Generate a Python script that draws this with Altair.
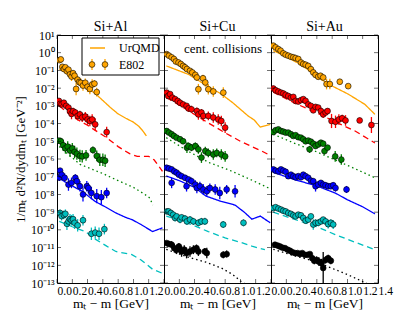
import altair as alt
import pandas as pd

FONT = "Liberation Serif"
SERIES = ["orange", "red", "green", "blue", "cyan", "black"]
COLORS = ["#FFA500", "#FF0000", "#008000", "#0000FF", "#00BFBF", "#000000"]
DASHES = [[1, 0], [6, 4], [1.5, 3], [1, 0], [6, 4], [1.5, 3]]
PANELS = ["Si+Al", "Si+Cu", "Si+Au"]
X_TICKS_A = [0.0, 0.2, 0.4, 0.6, 0.8, 1.0, 1.2]
X_TICKS_B = [0.0, 0.2, 0.4, 0.6, 0.8, 1.0, 1.2, 1.4]
Y_TICKS = [1e-13, 1e-12, 1e-11, 1e-10, 1e-9, 1e-8, 1e-7, 1e-6, 1e-5, 1e-4, 1e-3, 1e-2, 1e-1, 1e0, 1e1]
Y_TICK_LABELS = ["10⁻¹³", "10⁻¹²", "10⁻¹¹", "10⁻¹⁰", "10⁻⁹", "10⁻⁸", "10⁻⁷", "10⁻⁶",
                 "10⁻⁵", "10⁻⁴", "10⁻³", "10⁻²", "10⁻¹", "10⁰", "10¹"]

# ---------------- Si+Al : points (x, y, error in decades) and UrQMD lines (x, y)
AL_ORANGE_PTS = [(0.03, 0.38, .1), (0.05, 0.42, .1), (0.07, 0.16, .15), (0.09, 0.12, .15), (0.11, 0.15, .12),
                 (0.13, 0.09, .15), (0.15, 0.11, .12), (0.17, 0.06, .2), (0.19, 0.045, .25), (0.21, 0.07, .15),
                 (0.23, 0.05, .15), (0.25, 0.009, .35), (0.27, 0.03, .2), (0.29, 0.022, .2), (0.31, 0.02, .25),
                 (0.34, 0.014, .3), (0.37, 0.02, .25), (0.40, 0.012, .3), (0.43, 0.009, .3), (0.46, 0.016, .3),
                 (0.49, 0.018, .2), (0.52, 0.006, .25)]
AL_ORANGE_LINE = [(0.03, 0.12), (0.1, 0.08), (0.2, 0.04), (0.3, 0.018), (0.4, 0.01), (0.5, 0.005), (0.6, 0.002),
                  (0.7, 8e-4), (0.8, 3.5e-4), (0.9, 2e-4), (1.0, 1.2e-4), (1.07, 7e-5), (1.12, 4e-5), (1.17, 2e-5)]
AL_RED_PTS = [(0.025, 1.9e-3, .1), (0.04, 1.3e-3, .12), (0.06, 1.2e-3, .12), (0.09, 1.5e-3, .12), (0.12, 1e-3, .15),
              (0.15, 8e-4, .15), (0.17, 5e-4, .25), (0.19, 3.5e-4, .3), (0.21, 5e-4, .2), (0.24, 4.2e-4, .2),
              (0.27, 2.7e-4, .25), (0.30, 3.3e-4, .2), (0.33, 2.2e-4, .25), (0.37, 2.5e-4, .25), (0.40, 1.7e-4, .3),
              (0.43, 1.4e-4, .3), (0.46, 1.7e-4, .3), (0.50, 9e-5, .35), (0.65, 3.3e-5, .3)]
AL_RED_LINE = [(0.03, 1e-3), (0.2, 2.5e-4), (0.4, 8e-5), (0.55, 3e-5), (0.65, 1.6e-5), (0.8, 5e-6), (0.95, 2e-6),
               (1.05, 1.4e-6), (1.2, 1.4e-6), (1.27, 9e-7), (1.33, 4e-7), (1.38, 2e-7)]
AL_GREEN_PTS = [(0.025, 1.1e-5, .15), (0.05, 1.0e-5, .2), (0.08, 6e-6, .3), (0.11, 4e-6, .3), (0.14, 5e-6, .3),
                (0.17, 3e-6, .35), (0.2, 4e-6, .3), (0.23, 2.5e-6, .35), (0.26, 2e-6, .35), (0.3, 1.5e-6, .35),
                (0.33, 1.4e-6, .35), (0.38, 1.6e-6, .3), (0.47, 3.2e-6, .2), (0.52, 1.5e-6, .3), (0.56, 9e-7, .35),
                (0.6, 9e-7, .35), (0.63, 8e-7, .35)]
AL_GREEN_LINE = [(0.03, 5e-6), (0.3, 5e-7), (0.6, 1.5e-7), (0.8, 6e-8), (1.0, 2.5e-8), (1.15, 1e-8), (1.22, 6e-9),
                 (1.25, 2.5e-9)]
AL_BLUE_PTS = [(0.03, 9e-8, .2), (0.04, 2.2e-7, .15), (0.06, 1.3e-7, .2), (0.1, 8.7e-8, .25), (0.15, 3.6e-8, .35),
               (0.19, 4.5e-8, .3), (0.24, 8.7e-8, .2), (0.26, 5.6e-8, .25), (0.3, 2.9e-8, .3), (0.34, 1e-8, .4),
               (0.39, 2.9e-8, .3), (0.41, 2.3e-8, .3), (0.45, 1.2e-8, .35), (0.52, 8e-9, .4), (0.58, 7e-9, .4),
               (0.65, 1.2e-8, .3)]
AL_BLUE_LINE = [(0.03, 8e-8), (0.2, 3e-8), (0.33, 1.5e-8), (0.5, 4e-9), (0.65, 1.8e-9), (0.77, 9e-10), (0.9, 5e-10),
                (0.98, 3.8e-10), (1.1, 2e-10), (1.25, 8e-11), (1.38, 1.3e-10)]
AL_CYAN_PTS = [(0.04, 9e-10, .2), (0.06, 6e-10, .25), (0.09, 7e-10, .25), (0.11, 8e-10, .25), (0.13, 2.2e-10, .35),
               (0.15, 3e-10, .3), (0.17, 4e-10, .3), (0.19, 3.5e-10, .3), (0.21, 4e-10, .3), (0.23, 2.5e-10, .35),
               (0.27, 1.8e-10, .35), (0.34, 3.5e-10, .3), (0.45, 6e-11, .35), (0.5, 7e-11, .35), (0.55, 6e-11, .35),
               (0.62, 1.1e-10, .3)]
AL_CYAN_LINE = [(0.03, 3e-10), (0.2, 1.5e-10), (0.37, 8e-11), (0.5, 3e-11), (0.65, 1.2e-11), (0.77, 6e-12),
                (0.98, 4e-12), (1.1, 2e-12), (1.25, 6e-13), (1.38, 3.5e-13)]

# ---------------- Si+Cu
CU_ORANGE_PTS = [(0.035, 0.83, .08), (0.065, 0.68, .08), (0.1, 0.55, .08), (0.13, 0.44, .08), (0.155, 0.32, .1),
                 (0.19, 0.28, .1), (0.22, 0.23, .1), (0.25, 0.18, .1), (0.275, 0.15, .12), (0.3, 0.12, .12),
                 (0.34, 0.095, .15), (0.37, 0.077, .15), (0.41, 0.056, .2), (0.43, 0.04, .2), (0.45, 0.0087, .3),
                 (0.51, 0.036, .2), (0.54, 0.021, .25), (0.58, 0.0087, .3), (0.645, 0.0065, .3), (0.776, 0.0056, .3)]
CU_ORANGE_LINE = [(0.03, 0.18), (0.32, 0.06), (0.5, 0.02), (0.75, 4.6e-3), (0.9, 1.5e-3), (1.1, 2.7e-4),
                  (1.18, 1.6e-4), (1.26, 6.3e-5), (1.39, 9e-5)]
CU_RED_PTS = [(0.035, 5.6e-3, .1), (0.055, 3.6e-3, .12), (0.08, 4.6e-3, .1), (0.11, 2.9e-3, .12), (0.145, 2.4e-3, .12),
              (0.18, 1.9e-3, .12), (0.21, 1.5e-3, .15), (0.25, 1.2e-3, .15), (0.295, 1e-3, .15), (0.32, 7.2e-4, .2),
              (0.36, 6.4e-4, .2), (0.43, 5.1e-4, .2), (0.45, 3.3e-4, .3), (0.49, 4.2e-4, .2), (0.515, 2.7e-4, .3),
              (0.58, 2.7e-4, .25), (0.645, 2.2e-4, .3), (0.71, 1.7e-4, .3), (0.75, 1.4e-4, .3), (0.8, 5.9e-5, .3)]
CU_RED_LINE = [(0.03, 3e-3), (0.3, 6e-4), (0.55, 1.3e-4), (0.8, 3e-5), (1.0, 1e-5), (1.15, 5e-6), (1.28, 2.8e-6),
               (1.4, 1.5e-6)]
CU_GREEN_PTS = [(0.035, 3.8e-5, .1), (0.065, 3.1e-5, .1), (0.1, 2.5e-5, .1), (0.13, 2e-5, .12), (0.165, 1.6e-5, .12),
                (0.21, 1.3e-5, .12), (0.25, 1e-5, .15), (0.3, 4.4e-6, .3), (0.32, 5.4e-6, .2), (0.36, 4.4e-6, .2),
                (0.41, 5.4e-6, .2), (0.45, 3.5e-6, .25), (0.49, 1.2e-6, .3), (0.54, 2.8e-6, .25), (0.58, 2.2e-6, .25),
                (0.645, 1.8e-6, .3), (0.69, 2.2e-6, .25), (0.75, 1.8e-6, .3), (0.8, 1.4e-6, .3)]
CU_GREEN_LINE = [(0.03, 1.6e-5), (0.3, 3e-6), (0.6, 6e-7), (0.84, 2.5e-7), (1.1, 8e-8), (1.37, 2.3e-8)]
CU_BLUE_PTS = [(0.035, 3.2e-7, .08), (0.065, 2.9e-7, .08), (0.1, 2.6e-7, .1), (0.1, 4.5e-8, .3), (0.135, 2e-7, .1),
               (0.165, 1.7e-7, .1), (0.195, 1.3e-7, .12), (0.23, 1.07e-7, .12), (0.275, 8.7e-8, .15),
               (0.295, 2.9e-8, .3), (0.32, 7e-8, .15), (0.36, 5.6e-8, .2), (0.41, 3.6e-8, .25), (0.43, 2.3e-8, .3),
               (0.47, 2.9e-8, .25), (0.515, 1.9e-8, .3), (0.56, 1.5e-8, .3), (0.6, 2.3e-8, .25), (0.67, 1.9e-8, .3),
               (0.73, 1.2e-8, .35), (0.82, 1.9e-8, .25), (0.93, 1.5e-8, .35)]
CU_BLUE_LINE = [(0.03, 1.1e-7), (0.2, 6e-8), (0.4, 2.5e-8), (0.55, 8e-9), (0.75, 4e-9), (0.93, 2.5e-9), (1.05, 1e-9),
                (1.15, 4e-10), (1.26, 6e-10), (1.39, 2.5e-10)]
CU_CYAN_PTS = [(0.04, 1.1e-9, .1), (0.06, 1.1e-9, .12), (0.09, 9e-10, .12), (0.12, 7.2e-10, .15), (0.145, 4.7e-10, .2),
               (0.165, 5.8e-10, .15), (0.21, 3.8e-10, .2), (0.23, 5.1e-10, .15), (0.275, 4.3e-10, .2),
               (0.3, 3e-10, .2), (0.34, 3.8e-10, .2), (0.385, 3e-10, .2), (0.45, 2.5e-10, .2), (0.49, 3e-10, .2),
               (0.535, 3e-10, .2), (0.775, 2e-10, .2), (1.04, 2.5e-10, .2)]
CU_CYAN_LINE = [(0.03, 6e-10), (0.3, 2.5e-10), (0.58, 8e-11), (0.8, 3.5e-11), (1.0, 2e-11), (1.15, 1.2e-11),
                (1.32, 7.6e-12)]
CU_BLACK_PTS = [(0.035, 1.8e-11, .12), (0.065, 1.6e-11, .15), (0.1, 1.45e-11, .2), (0.135, 9.3e-12, .25),
                (0.165, 7.6e-12, .25), (0.195, 1.15e-11, .2), (0.23, 6e-12, .3), (0.265, 7.6e-12, .25),
                (0.295, 4.9e-12, .3), (0.34, 6e-12, .3), (0.385, 7.6e-12, .25), (0.425, 9.3e-12, .2),
                (0.45, 6e-12, .25), (0.535, 6e-12, .2), (0.56, 4.9e-12, .3), (0.775, 3.9e-12, .2), (0.82, 4.3e-12, .2)]
CU_BLACK_LINE = [(0.03, 8e-12), (0.3, 3e-12), (0.55, 1.5e-12), (0.75, 7e-13), (0.9, 3e-13), (1.0, 1.3e-13),
                 (1.05, 1e-13)]

# ---------------- Si+Au
AU_ORANGE_PTS = [(0.03, 2.5, .06), (0.061, 2.0, .06), (0.096, 1.6, .06), (0.126, 1.3, .06), (0.161, 0.92, .06),
                 (0.192, 0.77, .06), (0.226, 0.68, .06), (0.261, 0.59, .06), (0.292, 0.55, .06), (0.322, 0.5, .07),
                 (0.357, 0.44, .07), (0.392, 0.28, .08), (0.422, 0.23, .08), (0.453, 0.21, .08), (0.487, 0.18, .1),
                 (0.522, 0.118, .1), (0.553, 0.077, .12), (0.583, 0.056, .12), (0.618, 0.044, .15),
                 (0.648, 0.05, .12), (0.683, 0.04, .15), (0.727, 0.017, .3), (0.77, 0.017, .3), (0.9, 0.023, .15),
                 (1.01, 0.013, .12)]
AU_ORANGE_LINE = [(0.03, 1.3), (0.2, 0.6), (0.36, 0.25), (0.5, 0.1), (0.6, 0.045), (0.75, 0.017), (0.9, 8e-3),
                  (1.01, 4.6e-3), (1.23, 1.2e-3), (1.36, 3.3e-4)]
AU_RED_PTS = [(0.03, 9.5e-3, .06), (0.061, 7.6e-3, .06), (0.096, 6.5e-3, .06), (0.13, 5.6e-3, .06), (0.161, 5e-3, .06),
              (0.192, 4.2e-3, .06), (0.226, 3.6e-3, .06), (0.261, 2.9e-3, .08), (0.292, 3.2e-3, .08),
              (0.322, 1.9e-3, .08), (0.357, 1.75e-3, .08), (0.392, 2.1e-3, .08), (0.422, 2.4e-3, .08),
              (0.453, 1.9e-3, .1), (0.487, 1.2e-3, .1), (0.522, 1e-3, .1), (0.553, 5.6e-4, .15), (0.583, 8.7e-4, .12),
              (0.618, 8e-4, .12), (0.653, 5.1e-4, .15), (0.683, 3.3e-4, .2), (0.714, 4.2e-4, .15), (0.74, 5.1e-4, .15),
              (0.792, 1.4e-4, .4), (0.844, 1.26e-4, .35), (0.888, 1.7e-4, .3), (0.931, 2e-4, .2), (0.975, 1.5e-4, .3),
              (1.16, 1.5e-4, .15), (1.314, 8.3e-5, .45)]
AU_RED_LINE = [(0.03, 6e-3), (0.3, 1.5e-3), (0.6, 4e-4), (0.85, 1.2e-4), (1.1, 3.8e-5), (1.36, 8e-6)]
AU_GREEN_PTS = [(0.03, 3.3e-5, .06), (0.061, 4.2e-5, .06), (0.096, 4.7e-5, .06), (0.13, 3.8e-5, .06),
                (0.161, 3.5e-5, .06), (0.192, 3.1e-5, .06), (0.226, 3.1e-5, .06), (0.261, 2.5e-5, .08),
                (0.292, 2e-5, .08), (0.322, 2.2e-5, .08), (0.357, 1.7e-5, .08), (0.392, 1.6e-5, .08),
                (0.422, 1.3e-5, .1), (0.453, 1e-5, .1), (0.487, 1.1e-5, .1), (0.505, 3.5e-6, .2), (0.522, 9.5e-6, .1),
                (0.553, 7.3e-6, .12), (0.583, 5.4e-6, .12), (0.618, 6.6e-6, .12), (0.653, 8.3e-6, .12),
                (0.683, 7.3e-6, .12), (0.7, 2.8e-6, .2), (0.74, 4.4e-6, .15), (0.84, 1.4e-6, .3), (0.92, 9.3e-7, .3)]
AU_GREEN_LINE = [(0.03, 2.5e-5), (0.3, 8e-6), (0.6, 2.5e-6), (0.97, 5e-7), (1.2, 1.8e-7), (1.36, 8.7e-8)]
AU_BLUE_PTS = [(0.03, 2.6e-7, .06), (0.061, 2.2e-7, .06), (0.096, 2e-7, .06), (0.13, 2.6e-7, .06), (0.161, 2.2e-7, .06),
               (0.192, 1.9e-7, .06), (0.226, 1.07e-7, .08), (0.261, 1.3e-7, .08), (0.292, 1.07e-7, .08),
               (0.322, 9.3e-8, .08), (0.357, 1.07e-7, .08), (0.392, 9.3e-8, .08), (0.422, 1.3e-7, .08),
               (0.453, 1.07e-7, .1), (0.487, 8.7e-8, .1), (0.522, 6e-8, .12), (0.553, 5.6e-8, .12),
               (0.583, 2.9e-8, .3), (0.618, 3.6e-8, .2), (0.653, 4.5e-8, .15), (0.683, 3.6e-8, .15),
               (0.714, 3.3e-8, .15), (0.748, 2.9e-8, .15), (0.783, 2.9e-8, .15), (0.814, 3.3e-8, .15),
               (0.844, 2.3e-8, .2), (0.988, 1.9e-8, .2)]
AU_BLUE_LINE = [(0.03, 1.8e-7), (0.3, 7e-8), (0.6, 3e-8), (0.84, 1.2e-8), (1.0, 5e-9), (1.2, 2e-9), (1.36, 8e-10)]
AU_CYAN_PTS = [(0.03, 1.7e-9, .06), (0.061, 1.9e-9, .06), (0.096, 1.6e-9, .06), (0.13, 1.4e-9, .06),
               (0.161, 1.2e-9, .06), (0.192, 1.1e-9, .06), (0.226, 9e-10, .08), (0.261, 8e-10, .08),
               (0.292, 6.6e-10, .08), (0.322, 5.8e-10, .08), (0.357, 7.2e-10, .08), (0.392, 6.6e-10, .1),
               (0.422, 4.7e-10, .1), (0.453, 3.3e-10, .15), (0.487, 3.8e-10, .15), (0.522, 5.8e-10, .1),
               (0.553, 2e-10, .3), (0.583, 2.5e-10, .2), (0.618, 2.5e-10, .2), (0.653, 3e-10, .15),
               (0.683, 3.8e-10, .15), (0.714, 3e-10, .15), (0.748, 2.1e-10, .25), (0.783, 2.5e-10, .2),
               (0.814, 2e-10, .25)]
AU_CYAN_LINE = [(0.03, 1e-9), (0.3, 4e-10), (0.6, 1.5e-10), (0.84, 5.4e-11), (1.1, 2e-11), (1.36, 7.6e-12)]
AU_BLACK_PTS = [(0.052, 1.45e-11, .06), (0.087, 1.3e-11, .06), (0.117, 1.15e-11, .06), (0.148, 1e-11, .06),
                (0.183, 9.3e-12, .06), (0.218, 7.6e-12, .08), (0.248, 6.6e-12, .08), (0.279, 5.5e-12, .08),
                (0.313, 4.9e-12, .08), (0.348, 4.9e-12, .08), (0.379, 4.3e-12, .1), (0.409, 4.9e-12, .1),
                (0.444, 3.9e-12, .1), (0.479, 3.9e-12, .1), (0.509, 4.3e-12, .12), (0.54, 2.5e-12, .15),
                (0.566, 1.8e-12, .2), (0.596, 2e-12, .2), (0.627, 1.6e-12, .25), (0.662, 1.3e-12, .25),
                (0.683, 7e-13, .9), (0.714, 2e-12, .2), (0.748, 2.5e-12, .2), (0.783, 1.8e-12, .2)]
AU_BLACK_LINE = [(0.03, 8e-12), (0.3, 3.5e-12), (0.55, 1.8e-12), (0.79, 7e-13), (1.0, 3e-13), (1.2, 1.2e-13),
                 (1.25, 1e-13)]

PANEL_PTS = [
    [AL_ORANGE_PTS, AL_RED_PTS, AL_GREEN_PTS, AL_BLUE_PTS, AL_CYAN_PTS, []],
    [CU_ORANGE_PTS, CU_RED_PTS, CU_GREEN_PTS, CU_BLUE_PTS, CU_CYAN_PTS, CU_BLACK_PTS],
    [AU_ORANGE_PTS, AU_RED_PTS, AU_GREEN_PTS, AU_BLUE_PTS, AU_CYAN_PTS, AU_BLACK_PTS],
]
PANEL_LINES = [
    [AL_ORANGE_LINE, AL_RED_LINE, AL_GREEN_LINE, AL_BLUE_LINE, AL_CYAN_LINE, []],
    [CU_ORANGE_LINE, CU_RED_LINE, CU_GREEN_LINE, CU_BLUE_LINE, CU_CYAN_LINE, CU_BLACK_LINE],
    [AU_ORANGE_LINE, AU_RED_LINE, AU_GREEN_LINE, AU_BLUE_LINE, AU_CYAN_LINE, AU_BLACK_LINE],
]

W, H = 107, 248
XT = "mₜ − m [GeV]"
YT = "1/mₜ d²N/dydmₜ [GeV⁻²]"

color_scale = alt.Scale(domain=SERIES, range=COLORS)
dash_scale = alt.Scale(domain=SERIES, range=DASHES)
x_scale = alt.Scale(domain=[0, 1.4], nice=False, zero=False)
y_scale = alt.Scale(type="log", domain=[1e-13, 10], nice=False)
label_expr = "[" + ",".join("'%s'" % l for l in Y_TICK_LABELS) + "][round(log(datum.value)/LN10)+13]"


def make_panel(i):
    rows = []
    for s, pts in zip(SERIES, PANEL_PTS[i]):
        for x, y, e in pts:
            rows.append({"s": s, "x": x, "y": y, "lo": y / 10 ** e, "hi": y * 10 ** e})
    pdf = pd.DataFrame(rows)
    lrows = []
    for s, ln in zip(SERIES, PANEL_LINES[i]):
        for x, y in ln:
            lrows.append({"s": s, "x": x, "y": y})
    ldf = pd.DataFrame(lrows)

    xticks = X_TICKS_B if i == 2 else X_TICKS_A
    xaxis = alt.Axis(values=xticks, format=".1f", title=XT, ticks=False, tickSize=0, labelPadding=2,
                     labelFlush=False, labelOverlap=False, labelFontSize=11.5, labelAlign="left",
                     titleFontSize=13.5, titleFontWeight="normal", titlePadding=0, domain=False)
    if i == 0:
        yaxis = alt.Axis(values=Y_TICKS, labelExpr=label_expr, title=YT, ticks=False, tickSize=0,
                         labelPadding=3, labelFontSize=12, titleFontSize=13, titleFontWeight="normal",
                         titlePadding=3, domain=False, labelOverlap=False)
    else:
        yaxis = None
    X = alt.X("x:Q", scale=x_scale, axis=xaxis)
    Y = alt.Y("y:Q", scale=y_scale, axis=yaxis)

    lines = alt.Chart(ldf).mark_line(clip=True, strokeWidth=1.3).encode(
        x=X, y=Y,
        color=alt.Color("s:N", scale=color_scale, legend=None),
        strokeDash=alt.StrokeDash("s:N", scale=dash_scale, legend=None),
    )
    errs = alt.Chart(pdf).mark_rule(clip=True, strokeWidth=1.3).encode(
        x=X, y=alt.Y("lo:Q", scale=y_scale, axis=yaxis), y2="hi:Q",
        color=alt.Color("s:N", scale=color_scale, legend=None),
    )
    pts = alt.Chart(pdf).mark_point(clip=True, filled=True, size=34, shape="circle", stroke="black",
                                    strokeWidth=0.6, opacity=1).encode(
        x=X, y=Y, fill=alt.Fill("s:N", scale=color_scale, legend=None),
    )
    # inward ticks on all four sides of the frame
    xt = pd.DataFrame({"x": xticks})
    yt = pd.DataFrame({"y": Y_TICKS})
    tk = dict(size=4, thickness=0.8, color="black")
    tb = alt.Chart(xt).mark_tick(orient="vertical", **tk).encode(
        x=alt.X("x:Q", scale=x_scale, axis=xaxis), y=alt.value(H - 2))
    tt = alt.Chart(xt).mark_tick(orient="vertical", **tk).encode(
        x=alt.X("x:Q", scale=x_scale, axis=xaxis), y=alt.value(2))
    tl = alt.Chart(yt).mark_tick(orient="horizontal", **tk).encode(
        y=alt.Y("y:Q", scale=y_scale, axis=yaxis), x=alt.value(2))
    tr = alt.Chart(yt).mark_tick(orient="horizontal", **tk).encode(
        y=alt.Y("y:Q", scale=y_scale, axis=yaxis), x=alt.value(W - 2))
    one = pd.DataFrame({"a": [0]})
    ttl = alt.Chart(one).mark_text(text=PANELS[i], align="center", baseline="middle", font=FONT,
                                   fontSize=14).encode(x=alt.value(W / 2), y=alt.value(-8))
    layers = [lines, errs, pts, tb, tt, tl, tr, ttl]

    if i == 0:
        box = alt.Chart(one).mark_rect(fill="white", stroke="black", strokeWidth=1).encode(
            x=alt.value(25), x2=alt.value(102), y=alt.value(3), y2=alt.value(40))
        lsample = alt.Chart(one).mark_rule(color=COLORS[0], strokeWidth=1.5).encode(
            x=alt.value(33), x2=alt.value(48), y=alt.value(13))
        t1 = alt.Chart(one).mark_text(text="UrQMD", align="left", baseline="middle", font=FONT,
                                      fontSize=12).encode(x=alt.value(62), y=alt.value(13))
        ebars = alt.Chart(pd.DataFrame({"px": [35, 48]})).mark_rule(color=COLORS[0], strokeWidth=1.3).encode(
            x=alt.X("px:Q", scale=None), y=alt.value(24), y2=alt.value(35))
        emark = alt.Chart(pd.DataFrame({"px": [35, 48]})).mark_point(
            filled=True, size=34, shape="circle", fill=COLORS[0], stroke="black", strokeWidth=0.6,
            opacity=1).encode(x=alt.X("px:Q", scale=None), y=alt.value(29.5))
        t2 = alt.Chart(one).mark_text(text="E802", align="left", baseline="middle", font=FONT,
                                      fontSize=12).encode(x=alt.value(62), y=alt.value(29.5))
        layers += [box, lsample, t1, ebars, emark, t2]
    if i == 1:
        cc = alt.Chart(one).mark_text(text="cent. collisions", align="center", baseline="middle", font=FONT,
                                      fontSize=13).encode(x=alt.value(59), y=alt.value(14))
        layers += [cc]

    return alt.layer(*layers).properties(width=W, height=H)


chart = alt.hconcat(*[make_panel(i) for i in range(3)], spacing=0, bounds="flush").properties(
    padding={"left": 5, "top": 11, "right": 5, "bottom": 0}
).configure_view(stroke="black", strokeWidth=1).configure_axis(
    labelFont=FONT, titleFont=FONT, labelColor="black", titleColor="black", grid=False
)

chart.save("out.html", embed_options={"renderer": "svg", "actions": False})
